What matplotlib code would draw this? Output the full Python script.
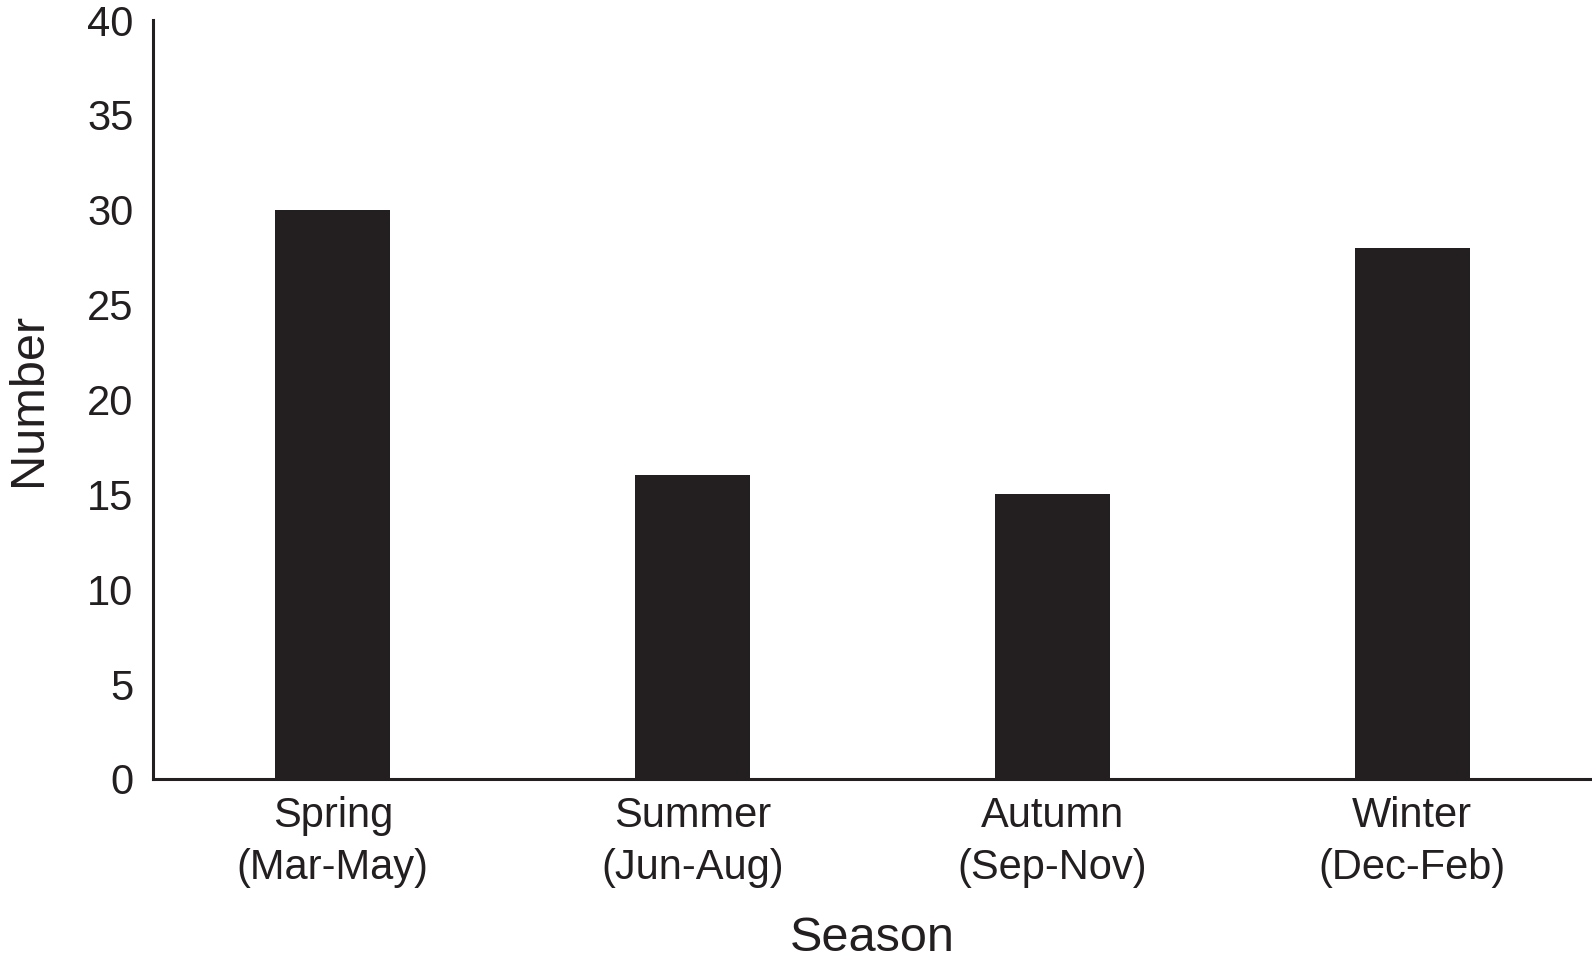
"""Seasonal counts as a plain black bar chart."""
import matplotlib

matplotlib.use("Agg")
import matplotlib.pyplot as plt  # noqa: E402

SEASONS = ["Spring\n(Mar-May)", "Summer\n(Jun-Aug)", "Autumn\n(Sep-Nov)", "Winter\n(Dec-Feb)"]
COUNTS = [30, 16, 15, 28]
Y_TICKS = [0, 5, 10, 15, 20, 25, 30, 35, 40]

INK = "#231f20"

plt.rcParams["font.family"] = ["Liberation Sans", "DejaVu Sans"]

fig = plt.figure(figsize=(15.92, 9.59), dpi=100)
ax = fig.add_axes([0.0961, 0.1877, 0.9039, 0.7914])

ax.bar(range(len(SEASONS)), COUNTS, width=0.32, color=INK)

ax.set_xlim(-0.5, 3.5)
ax.set_ylim(0, 40)
ax.set_yticks(Y_TICKS)
ax.set_xticks(range(len(SEASONS)))
ax.set_xticklabels(SEASONS, linespacing=1.4)

ax.tick_params(axis="both", length=0, labelsize=30, colors=INK)
ax.tick_params(axis="y", pad=14)
ax.tick_params(axis="x", pad=12)

for side in ("top", "right"):
    ax.spines[side].set_visible(False)
for side in ("left", "bottom"):
    ax.spines[side].set_color(INK)
    ax.spines[side].set_linewidth(2.2)

ax.set_xlabel("Season", fontsize=35, color=INK, labelpad=20)
ax.set_ylabel("Number", fontsize=35, color=INK, labelpad=26)

fig.savefig("out.png", dpi=100)
